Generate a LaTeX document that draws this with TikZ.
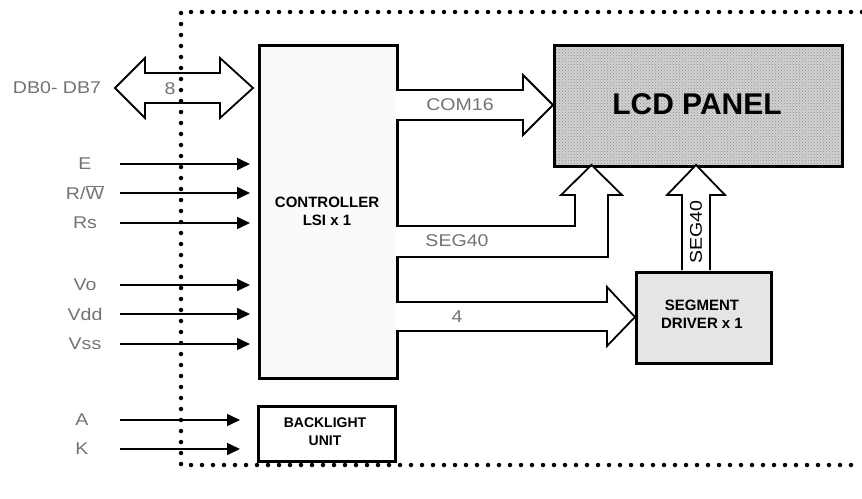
\documentclass[tikz,border=0pt]{standalone}
\usepackage{fontspec}
\setmainfont{Liberation Sans}
\newfontfamily\lblfont[FakeStretch=1.15]{Liberation Sans}
\usetikzlibrary{arrows.meta,patterns}
\begin{document}
\begin{tikzpicture}[x=1pt,y=-1pt,
  blk/.style={draw,line width=2.6pt,inner sep=0pt,anchor=north west},
  sig/.style={line width=1.6pt,-{Triangle[length=13pt,width=12pt]}},
  bus/.style={draw,line width=1.8pt,fill=white,line join=miter},
  lbl/.style={font=\lblfont\fontsize{17}{19}\selectfont,text=black!55,inner sep=0pt},
  btxt/.style={font=\bfseries\fontsize{15}{18}\selectfont,align=center,inner sep=0pt},
  dotline/.style={line width=4.5pt,line cap=round,dash pattern=on 0pt off 11pt}
]
\useasboundingbox (0,0) rectangle (862,498);

% blocks
\node[blk,minimum width=138,minimum height=333,fill=gray!4] (ctrl) at (258,44) {};
\node[btxt] (ctrltxt) at (327,211) {CONTROLLER\\LSI x 1};
\node[blk,minimum width=288,minimum height=121,preaction={fill=gray!35},pattern=crosshatch dots,pattern color=gray!90] (lcd) at (553,44) {};
\node[font=\bfseries\fontsize{30}{32}\selectfont,inner sep=0pt] (lcdtxt) at (697,104) {LCD PANEL};
\node[blk,minimum width=135,minimum height=91,fill=gray!20] (seg) at (635,271) {};
\node[btxt] (segtxt) at (702,314) {SEGMENT\\DRIVER x 1};
\node[blk,minimum width=137,minimum height=55] (bl) at (257,405) {};
\node[btxt,font=\bfseries\fontsize{14}{18}\selectfont] (bltxt) at (325,432) {BACKLIGHT\\UNIT};

% data bus double arrow
\draw[bus] (115,88) -- (145,58) -- (145,73) -- (220,73) -- (220,58) -- (253,88)
  -- (220,118) -- (220,103) -- (145,103) -- (145,118) -- cycle;
\node[lbl] (dbl) at (57,88) {DB0- DB7};
\node[lbl] (n8) at (170,89) {8};

% COM16
\draw[bus] (396,90) -- (523,90) -- (523,75) -- (553,105) -- (523,135) -- (523,120) -- (396,120);
\node[lbl] (com) at (460,105) {COM16};

% SEG40 from controller
\draw[bus] (396,226) -- (575,226) -- (575,195) -- (561,195) -- (591.5,165) -- (622,195)
  -- (608,195) -- (608,257) -- (396,257);
\node[lbl] (seg1) at (457,241) {SEG40};

% SEG40 from segment driver
\draw[bus] (682,270) -- (682,195) -- (667,195) -- (696,165) -- (725,195) -- (710,195) -- (710,270);
\node[lbl,text=black,rotate=90] (seg2) at (696,232) {SEG40};

% 4 bus
\draw[bus] (396,302) -- (607,302) -- (607,287) -- (635,317) -- (607,346) -- (607,331) -- (396,331);
\node[lbl] (n4) at (457,317) {4};

% signals
\foreach \nm/\txt/\yy in {e/E/164, rw/{R/$\overline{\hbox{W}}$}/193, rs/Rs/223, vo/Vo/285, vdd/Vdd/314, vss/Vss/344}{
  \node[lbl] (\nm L) at (85,\yy) {\txt};
  \coordinate (\nm S) at (120,\yy);
  \draw[sig,shorten >=8pt] (\nm S) -- (ctrl.west |- \nm S);
}
\foreach \nm/\txt/\yy in {a/A/420, k/K/449}{
  \node[lbl] (\nm L) at (82,\yy) {\txt};
  \coordinate (\nm S) at (120,\yy);
  \draw[sig,shorten >=17pt] (\nm S) -- (bl.west |- \nm S);
}

% dotted module boundary
\coordinate (bTR) at (862,12);
\coordinate (bTL) at (181,12);
\coordinate (bBL) at (181,465);
\coordinate (bBR) at (862,465);
\draw[dotline] (bTR) -- (bTL) -- (bBL) -- (bBR);
\end{tikzpicture}
\end{document}
